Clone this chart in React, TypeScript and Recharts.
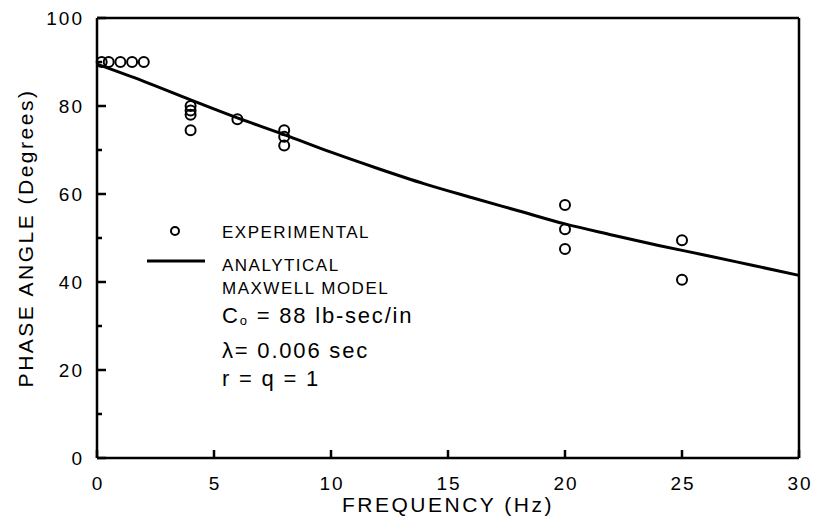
import React from 'react';
import { ComposedChart, Line, Scatter, XAxis, YAxis } from 'recharts';

const expFreq = [0.2, 0.5, 1, 1.5, 2, 4, 4, 4, 4, 6, 8, 8, 8, 20, 20, 20, 25, 25];
const expPhase = [90, 90, 90, 90, 90, 80, 79, 78, 74.5, 77, 74.5, 73, 71, 57.5, 52, 47.5, 49.5, 40.5];

const modelFreq = [0, 2, 4, 6, 8, 10, 12, 14, 16, 18, 20, 22, 24, 26, 28, 30];
const modelPhase = [89.5, 85.6, 81.4, 77.3, 73.5, 69.5, 65.8, 62.3, 59.2, 56.2, 53.2, 50.7, 48.3, 46.1, 43.8, 41.5];

const xTicks = [0, 5, 10, 15, 20, 25, 30];
const yTicks = [0, 10, 20, 30, 40, 50, 60, 70, 80, 90, 100];
const yLabelTicks = [0, 20, 40, 60, 80, 100];

const expData = expFreq.map((f, i) => ({ f, p: expPhase[i] }));
const modelData = modelFreq.map((f, i) => ({ f, m: modelPhase[i] }));

const FONT = '"Liberation Sans", Arial, sans-serif';

const W = 815;
const H = 525;
const PL = 97;
const PR = 799;
const PT = 18;
const PB = 458;

const LeftTick = (props: any) => {
  const { payload } = props;
  const v = payload.value;
  const y = payload.coordinate;
  const major = yLabelTicks.includes(v);
  return (
    <g>
      <rect x={PL} y={y - 1.25} width={major ? 9 : 5} height={2.5} fill="#000" />
      {major && (
        <text x={PL - 13} y={y} dominantBaseline="central" textAnchor="end" fontFamily={FONT} fontSize={19} letterSpacing={2} fill="#000">
          {v}
        </text>
      )}
    </g>
  );
};

const RightTick = (props: any) => {
  const y = props.payload.coordinate;
  return <rect x={PR - 7} y={y - 1.25} width={7} height={2.5} fill="#000" />;
};

const BottomTick = (props: any) => {
  const { payload } = props;
  const x = payload.coordinate;
  return (
    <g>
      <rect x={x - 1.25} y={PB - 8} width={2.5} height={8} fill="#000" />
      <text x={x + 1} y={PB + 25} dominantBaseline="central" textAnchor="middle" fontFamily={FONT} fontSize={19} letterSpacing={2} fill="#000">
        {payload.value}
      </text>
    </g>
  );
};

const TopTick = (props: any) => {
  const x = props.payload.coordinate;
  return <rect x={x - 1.25} y={PT} width={2.5} height={8} fill="#000" />;
};

const Circle = (props: any) => {
  const { cx, cy } = props;
  return <circle cx={cx} cy={cy} r={5} fill="none" stroke="#000" strokeWidth={2} />;
};

const YTitle = () => {
  const cy = (PT + PB) / 2;
  return (
    <text x={25} y={cy} transform={`rotate(-90, 25, ${cy})`} textAnchor="middle" dominantBaseline="central" fontFamily={FONT} fontSize={21} letterSpacing={2.5} fill="#000">
      PHASE ANGLE (Degrees)
    </text>
  );
};

const XTitle = () => {
  const cx = (PL + PR) / 2;
  return (
    <text x={cx} y={504} textAnchor="middle" dominantBaseline="central" fontFamily={FONT} fontSize={21} letterSpacing={2.5} fill="#000">
      FREQUENCY (Hz)
    </text>
  );
};

const axisLine = { stroke: '#000', strokeWidth: 2.5 };

export default function App() {
  return (
    <div style={{ position: 'absolute', left: 0, top: 0, width: W, height: H }}>
      <ComposedChart width={W} height={H} margin={{ top: 0, right: 0, bottom: 0, left: 0 }}>
        <XAxis
          xAxisId="b"
          dataKey="f"
          type="number"
          domain={[0, 30]}
          ticks={xTicks}
          interval={0}
          orientation="bottom"
          height={H - PB}
          tickLine={false}
          axisLine={axisLine}
          tick={<BottomTick />}
          label={<XTitle />}
        />
        <XAxis
          xAxisId="t"
          dataKey="f"
          type="number"
          domain={[0, 30]}
          ticks={xTicks}
          interval={0}
          orientation="top"
          height={PT}
          tickLine={false}
          axisLine={axisLine}
          tick={<TopTick />}
        />
        <YAxis
          yAxisId="l"
          type="number"
          domain={[0, 100]}
          ticks={yTicks}
          interval={0}
          orientation="left"
          width={PL}
          tickLine={false}
          axisLine={axisLine}
          tick={<LeftTick />}
          label={<YTitle />}
        />
        <YAxis
          yAxisId="r"
          type="number"
          domain={[0, 100]}
          ticks={yTicks}
          interval={0}
          orientation="right"
          width={W - PR}
          tickLine={false}
          axisLine={axisLine}
          tick={<RightTick />}
        />
        <Line
          xAxisId="b"
          yAxisId="l"
          data={modelData}
          dataKey="m"
          type="monotone"
          stroke="#000"
          strokeWidth={3}
          dot={false}
          activeDot={false}
          isAnimationActive={false}
        />
        <Scatter
          xAxisId="b"
          yAxisId="l"
          data={expData}
          dataKey="p"
          shape={<Circle />}
          isAnimationActive={false}
        />
      </ComposedChart>
      <svg width={W} height={H} style={{ position: 'absolute', left: 0, top: 0, pointerEvents: 'none' }}>
        <g fontFamily={FONT} fill="#000">
          <circle cx={175} cy={231} r={4} fill="none" stroke="#000" strokeWidth={2} />
          <line x1={147} x2={205} y1={261} y2={261} stroke="#000" strokeWidth={3} />
          <text x={222} y={232} fontSize={17} letterSpacing={1.5} dominantBaseline="central">EXPERIMENTAL</text>
          <text x={222} y={265} fontSize={17} letterSpacing={1.5} dominantBaseline="central">ANALYTICAL</text>
          <text x={222} y={288} fontSize={17} letterSpacing={1.5} dominantBaseline="central">MAXWELL MODEL</text>
          <text x={222} y={315} fontSize={22} letterSpacing={1.8} dominantBaseline="central">
            C<tspan fontSize={13} dy={5}>o</tspan>
            <tspan dy={-5}> = 88 lb-sec/in</tspan>
          </text>
          <text x={222} y={350} fontSize={22} letterSpacing={1.8} dominantBaseline="central">λ= 0.006 sec</text>
          <text x={222} y={378} fontSize={22} letterSpacing={1.8} dominantBaseline="central">r = q = 1</text>
        </g>
      </svg>
    </div>
  );
}
